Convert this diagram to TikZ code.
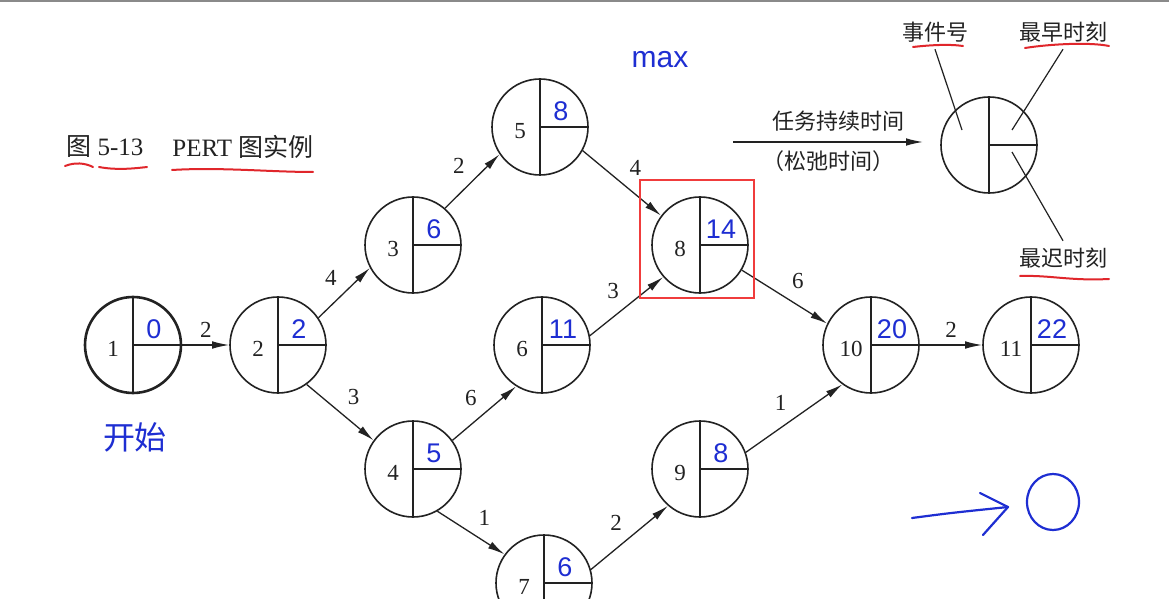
\documentclass[tikz,border=0pt]{standalone}
\usepackage{fontspec}
\setmainfont{Liberation Serif}
\newfontfamily\cjk{Noto Sans CJK SC}
\newfontfamily\handfont{Liberation Sans}
\usetikzlibrary{arrows.meta,positioning,calc}
\definecolor{inkblack}{HTML}{222222}
\definecolor{penblue}{HTML}{1E2ED2}
\definecolor{penred}{HTML}{E0262B}
\definecolor{boxred}{HTML}{F03C3C}
\definecolor{rulegray}{HTML}{8A8A8A}
\tikzset{
  event/.style={circle, draw=inkblack, line width=0.8pt, minimum size=48pt, inner sep=0pt,
    path picture={\draw[inkblack, line width=0.8pt]
      (path picture bounding box.north) -- (path picture bounding box.south)
      (path picture bounding box.center) -- (path picture bounding box.east);}},
  startevent/.style={event, line width=1.3pt},
  evnum/.style={font=\fontsize{11.5}{11.5}\selectfont, text=inkblack, inner sep=0pt},
  early/.style={font=\handfont\fontsize{13.5}{13.5}\selectfont, text=penblue, inner sep=0pt},
  task/.style={-{Latex[length=8.5pt,width=3.8pt]}, line width=0.65pt, color=inkblack},
  dur/.style={font=\fontsize{11.5}{11.5}\selectfont, text=inkblack, auto, inner sep=3.5pt},
  caption/.style={font=\fontsize{12.5}{12.5}\selectfont, text=inkblack, inner sep=0pt},
  keytext/.style={font=\cjk\fontsize{11}{11}\selectfont, text=inkblack},
  pointer/.style={line width=0.6pt, color=inkblack},
  redline/.style={penred, line width=1pt, line cap=round},
  pen/.style={penblue, line width=1.1pt, line cap=round, line join=round},
}
% event circle: style, name, position, event number, earliest time
\newcommand{\evt}[5][event]{%
  \node[#1] (#2) at (#3) {};
  \node[evnum] (#2n) at ($(#2)+(-20,4)$) {#4};
  \node[early] (#2t) at ($(#2)+(21,-16)$) {#5};}

\begin{document}
\begin{tikzpicture}[x=0.5pt,y=-0.5pt]
  \useasboundingbox (0,0) rectangle (1169,599);
  \fill[white] (0,0) rectangle (1169,599);
  \clip (0,0) rectangle (1169,599);
  \draw[rulegray, line width=1pt] (0,1) -- (1169,1);
  % caption
  \node[caption, anchor=west] (figtag) at (66,147) {{\cjk 图} 5-13};
  \node[caption, anchor=west] (figname) at (172,147) {PERT {\cjk 图实例}};
  % events
  \evt[startevent]{e1}{133,345}{1}{0}
  \evt{e2}{278,345}{2}{2}
  \evt{e3}{413,245}{3}{6}
  \evt{e4}{413,469}{4}{5}
  \evt{e5}{540,127}{5}{8}
  \evt{e6}{542,345}{6}{11}
  \evt{e7}{544,583}{7}{6}
  \evt{e8}{700,245}{8}{14}
  \evt{e9}{700,469}{9}{8}
  \evt{e10}{871,345}{10}{20}
  \evt{e11}{1031,345}{11}{22}
  % tasks
  \draw[task] (e1.east) -- node[dur]{2} (e2.west);
  \draw[task] (e2.34) -- node[dur]{4} (e3.208);
  \draw[task] (e2.-54) -- node[dur]{3} (e4.144);
  \draw[task] (e3.49) -- node[dur]{2} (e5.214);
  \draw[task] (e4.36) -- node[dur]{6} (e6.238);
  \draw[task] (e4.-60) -- node[dur]{1} (e7.144);
  \draw[task] (e5.-29) -- node[dur]{4} (e8.143);
  \draw[task] (e6.11) -- node[dur]{3} (e8.221);
  \draw[task] (e7.16) -- node[dur]{2} (e9.229);
  \draw[task] (e8.-31) -- node[dur]{6} (e10.154);
  \draw[task] (e9.20) -- node[dur]{1} (e10.234);
  \draw[task] (e10.east) -- node[dur]{2} (e11.west);
  % key
  \node[event] (e0) at (989,145) {};
  \coordinate (durtail) at (733,142);
  \coordinate (durhead) at (923,142);
  \draw[task] (durtail) -- node[keytext, above, inner sep=5pt, xshift=5pt]{任务持续时间}
    node[keytext, below, inner sep=4pt]{（松弛时间）} (durhead);
  \node[keytext] (kno) at (935,32) {事件号};
  \node[keytext] (kearly) at (1063,32) {最早时刻};
  \node[keytext] (klate) at (1063,258) {最迟时刻};
  \coordinate (pno) at ($(e0)+(-27,-15)$);
  \coordinate (pearly) at ($(e0)+(23,-15)$);
  \coordinate (plate) at ($(e0)+(23,7)$);
  \draw[pointer] (kno.south) -- (pno);
  \draw[pointer] (kearly.south) -- (pearly);
  \draw[pointer] (klate.north) -- (plate);
  % red marks
  \draw[boxred, line width=1.1pt] (640,180) rectangle (754,298);
  \draw[redline] (65,166) .. controls (75,162) and (85,163) .. (93,167);
  \draw[redline] (99,167) .. controls (115,170) and (130,169) .. (147,167);
  \draw[redline] (172,170) .. controls (220,167) and (270,172) .. (313,172);
  \draw[redline] (913,47) .. controls (930,45) and (950,44) .. (963,46);
  \draw[redline] (1025,48) .. controls (1050,44) and (1090,42) .. (1109,46);
  \draw[redline] (1020,276) .. controls (1050,275) and (1070,281) .. (1109,279);
  % blue pen notes
  \node[text=penblue, font=\handfont\fontsize{15}{15}\selectfont] (maxnote) at (660,60) {max};
  \node[text=penblue, font=\cjk\fontsize{16}{16}\selectfont] (startnote) at (135,437) {开始};
  \draw[pen] (912,518) .. controls (950,513) .. (1008,507);
  \draw[pen] (980,493) -- (1008,507) -- (983,535);
  \draw[pen] (1053,502) circle[x radius=13pt, y radius=14pt];
\end{tikzpicture}
\end{document}
